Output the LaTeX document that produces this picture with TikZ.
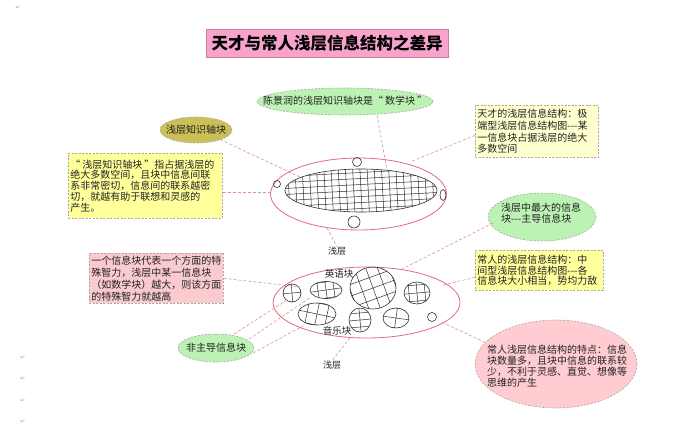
\documentclass[tikz,border=0pt]{standalone}
\usepackage{fontspec}
\usetikzlibrary{shapes.geometric}
\newfontfamily\cjk{Noto Sans CJK SC}
\newfontfamily\dejavu{DejaVu Sans}
\newcommand\myLQ{“\kern2pt}
\newcommand\myRQ{\kern2pt”}
\newcommand\tdash{-{}-{}-}
\definecolor{redl}{HTML}{E06C78}
\definecolor{conn}{HTML}{E0909A}
\definecolor{bord}{HTML}{A8A8A0}
\definecolor{titlefill}{HTML}{F7A3CB}
\definecolor{titlebord}{HTML}{D27A9E}
\definecolor{lgreen}{HTML}{BDF2B5}
\definecolor{olivef}{HTML}{CBBF58}
\definecolor{yel}{HTML}{FFFF9C}
\definecolor{pyel}{HTML}{FFFFD0}
\definecolor{pinkb}{HTML}{F9CACE}
\definecolor{pinke}{HTML}{FFCCD2}
\definecolor{txt}{HTML}{222222}
\tikzset{
  conline/.style={draw=conn, line width=0.6pt, dash pattern=on 3pt off 2pt},
  dbord/.style={draw=bord, line width=0.6pt, dash pattern=on 2pt off 1.5pt},
  tbox/.style={dbord, rectangle, anchor=north west, align=left, inner xsep=2pt, inner ysep=1pt, text=txt},
  ell/.style={dbord, ellipse, inner sep=0pt},
  ctext/.style={font=\cjk\fontsize{10}{11}\selectfont, text=txt, align=left, inner sep=0pt},
  lbl/.style={font=\cjk\fontsize{9}{10}\selectfont, text=txt, inner sep=0pt},
  pm/.style={font=\dejavu\fontsize{6}{6}\selectfont, text=gray!70, inner sep=0pt},
  gridln/.style={draw=black!80, line width=0.5pt},
  blkln/.style={draw=black!80, line width=0.6pt},
  redell/.style={draw=redl, line width=0.8pt}
}
\newcommand\blk[8]{%
  \coordinate (#8) at (#1,#2);
  \begin{scope}[shift={(#1,#2)}]
    \begin{scope}
      \clip (0,0) ellipse [x radius=#3, y radius=#4];
      \draw[gridln, rotate=#7, xstep=#5pt, ystep=#6pt] (-30,30) grid (30,-30);
    \end{scope}
    \draw[blkln] (0,0) ellipse [x radius=#3, y radius=#4];
  \end{scope}}
\begin{document}
\begin{tikzpicture}[x=1pt,y=-1pt]
\useasboundingbox (0,0) rectangle (690,434);
\fill[white] (0,0) rectangle (690,434);

% paragraph marks
\node[pm] (p0) at (18,8) {↵};
\node[pm] (p1) at (23,358) {↵};
\node[pm] (p2) at (23,379) {↵};
\node[pm] (p3) at (23,401) {↵};
\node[pm] (p4) at (23,422) {↵};

% title
\node[draw=titlebord, fill=titlefill, line width=0.6pt, minimum width=242pt, minimum height=28pt, inner sep=0pt,
      font=\cjk\bfseries\fontsize{16.5}{17}\selectfont, text=black] (title) at (327,43) {天才与常人浅层信息结构之差异};

% ===== top structure =====
\coordinate (topc) at (358.5,194);
\draw[redell] (topc) ellipse [x radius=88, y radius=36];
\begin{scope}
  \clip (361,190.5) ellipse [x radius=76, y radius=21.5];
  \draw[gridln, shift={(361,190.5)}, rotate=3, xstep=7.2pt, ystep=6pt] (-90,30) grid (90,-30);
\end{scope}
\draw[blkln] (361,190.5) ellipse [x radius=76, y radius=21.5];
\draw[blkln] (357,162) circle [radius=4.5];
\draw[blkln] (277,184) circle [radius=3.5];
\draw[blkln] (443,195) ellipse [x radius=3, y radius=5.5];
\draw[blkln] (354,222) circle [radius=6];

% top nodes
\node[ell, fill=lgreen, minimum width=176pt, minimum height=27pt] (chen) at (345,101.5) {};
\node[ctext] (chent) at (345,101) {陈景润的浅层知识轴块是\myLQ 数学块\myRQ};
\node[ell, fill=olivef, minimum width=72pt, minimum height=26pt] (axis) at (196,130) {};
\node[ctext] (axist) at (196,130) {浅层知识轴块};
\node[tbox, fill=yel, text width=150pt, minimum height=65pt, font=\cjk\fontsize{10}{10.8}\selectfont] (lbox) at (68,153)
  {\myLQ 浅层知识轴块\myRQ 指占据浅层的\\绝大多数空间，且块中信息间联\\系非常密切，信息间的联系越密\\切，就越有助于联想和灵感的\\产生。};
\node[tbox, fill=pyel, text width=119pt, minimum height=52pt, font=\cjk\fontsize{10}{11.8}\selectfont] (rbox) at (475,105)
  {天才的浅层信息结构：极\\端型浅层信息结构图\tdash 某\\一信息块占据浅层的绝大\\多数空间};
\node[lbl] (sh1) at (337,251) {浅层};

\coordinate (t1) at (300,177);
\coordinate (t2) at (271,192);
\coordinate (t3) at (387,170);
\coordinate (t4) at (410,162);
\coordinate (t5) at (327,228);
\draw[conline] (axis.south east) ++(-6,-2) -- (t1);
\draw[conline] (lbox.east |- t2) -- (t2);
\draw[conline] (chen.south) ++(32,0) -- (t3);
\draw[conline] (rbox.west) ++(0,4) -- (t4);
\draw[conline] (t5) -- (sh1.north);

% ===== bottom structure =====
\draw[redell] (366.5,302.5) ellipse [x radius=93.5, y radius=35.5];
\blk{292}{293}{9}{9}{9}{9}{5}{b1}
\blk{326}{290}{16}{8.5}{8}{8}{8}{b2}
\blk{317}{314}{19}{11}{10}{11}{-12}{b3}
\blk{373}{288}{23}{21}{11}{11}{20}{b4}
\blk{360}{320}{11}{12}{12}{7}{5}{b5}
\blk{396}{318}{13}{10}{13}{10}{-8}{b6}
\blk{417}{293}{13}{11}{8}{8}{5}{b7}
\draw[blkln] (432,317) circle [radius=4.5];
\node[lbl, font=\cjk\fontsize{9.5}{10}\selectfont] (eng) at (339,274) {英语块};
\node[lbl, font=\cjk\fontsize{9.5}{10}\selectfont] (mus) at (337,331) {音乐块};
\node[lbl] (sh2) at (332,365) {浅层};

% bottom nodes
\node[ell, fill=lgreen, minimum width=108pt, minimum height=48pt] (main) at (542,217) {};
\node[ctext] (maint) at (541,213.5) {浅层中最大的信息\\块\tdash 主导信息块};
\node[tbox, fill=yel, text width=124pt, minimum height=40pt, font=\cjk\fontsize{10}{10.6}\selectfont] (ybox) at (475,250)
  {常人的浅层信息结构：中\\间型浅层信息结构图\tdash 各\\信息块大小相当，势均力敌};
\node[tbox, fill=pinkb, text width=130pt, minimum height=50pt, font=\cjk\fontsize{10}{12}\selectfont] (pbox) at (89,253)
  {一个信息块代表一个方面的特\\殊智力，浅层中某一信息块\\（如数学块）越大，则该方面\\的特殊智力就越高};
\node[ell, fill=lgreen, minimum width=76pt, minimum height=28pt] (nond) at (216,348) {};
\node[ctext] (nondt) at (216,348) {非主导信息块};
\node[ell, fill=pinke, minimum width=162pt, minimum height=88pt] (feat) at (556,364) {};
\node[ctext, font=\cjk\fontsize{10}{10.8}\selectfont] (featt) at (557,366)
  {常人浅层信息结构的特点：信息\\块数量多，且块中信息的联系较\\少，不利于灵感、直觉、想像等\\思维的产生};

\coordinate (c1) at (300,287);
\coordinate (c2) at (400,270);
\coordinate (c3) at (443,285);
\coordinate (c4) at (442,322);
\coordinate (c5) at (350,338);
\coordinate (c6) at (287,300);
\coordinate (c7) at (311,297);
\coordinate (c8) at (303,326);
\coordinate (n1) at (234,334);
\coordinate (n2) at (249,339);
\coordinate (n3) at (253,353);
\coordinate (m1) at (493,223);
\coordinate (f1) at (486,343);
\draw[conline] (pbox.east) -- (c1);
\draw[conline] (m1) -- (c2);
\draw[conline] (ybox.west) ++(0,7) -- (c3);
\draw[conline] (c4) -- (f1);
\draw[conline] (c5) -- (sh2.north);
\draw[conline] (n1) -- (c6);
\draw[conline] (n2) -- (c7);
\draw[conline] (n3) -- (c8);
\end{tikzpicture}
\end{document}
